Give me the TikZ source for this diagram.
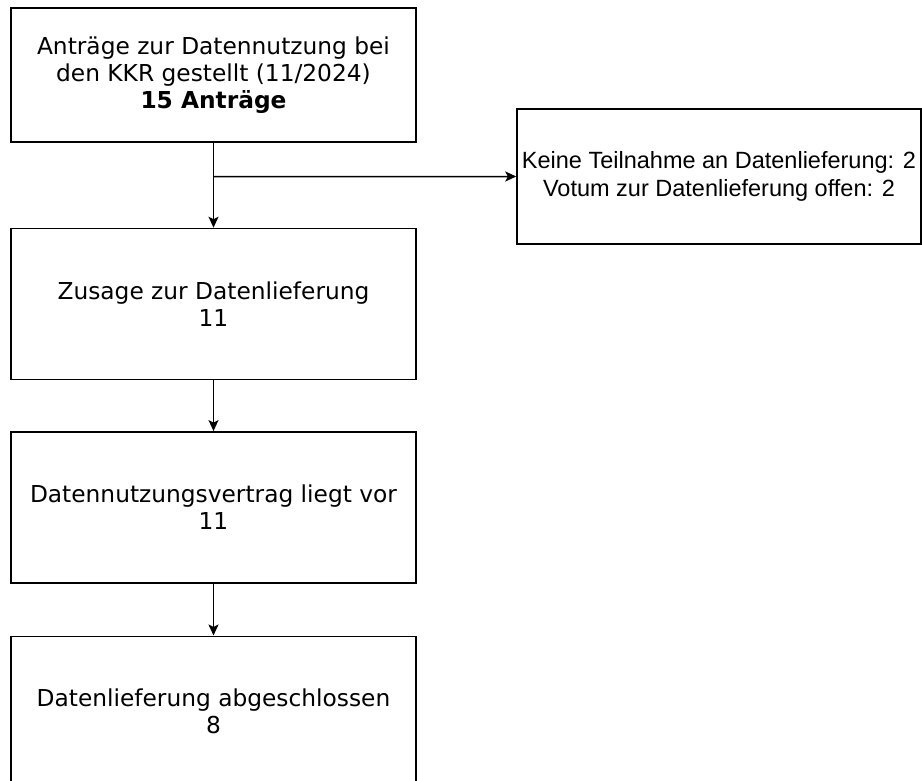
\documentclass[tikz,border=0pt]{standalone}
\usepackage{fontspec}
\setmainfont{DejaVu Sans}
\newfontfamily\arialfont{Liberation Sans}
\usetikzlibrary{positioning, arrows.meta, calc}

\begin{document}
\begin{tikzpicture}
	[>={Stealth[length=11pt, width=10pt, inset=2.5pt]},
	 x=1pt, y=-1pt,
	 line width=1.4pt,
	 align=center,
	 font=\fontsize{23.3}{27}\selectfont,
	 stage/.style={draw, rectangle, minimum width=405pt, minimum height=151pt, inner sep=0pt},
	 flow/.style={->, line width=1.5pt}]

	\path[use as bounding box] (0,0) rectangle (922,781);

	\node[stage, minimum height=134pt] (antraege) at (213.5,75) {Anträge zur Datennutzung bei\\den KKR gestellt (11/2024)\\\textbf{15 Anträge}};
	\node[stage, below = 85pt of antraege] (zusage) {Zusage zur Datenlieferung\\11};
	\node[stage, below = 51pt of zusage] (vertrag) {Datennutzungsvertrag liegt vor\\11};
	\node[stage, below = 52pt of vertrag] (lieferung) {Datenlieferung abgeschlossen\\8};
	\node[stage, minimum width=404pt, minimum height=135pt, font=\arialfont\fontsize{23.5}{28}\selectfont] (ausfall) at (719,176.5) {Keine Teilnahme an Datenlieferung: 2\\Votum zur Datenlieferung offen: 2};

	\coordinate (abzweig) at ($(antraege.south)!0.4!(zusage.north)$);

	\draw[flow] (antraege.south) -- (zusage.north);
	\draw[flow] (abzweig) -- (ausfall.west);
	\draw[flow] (zusage.south) -- (vertrag.north);
	\draw[flow] (vertrag.south) -- (lieferung.north);
\end{tikzpicture}
\end{document}
